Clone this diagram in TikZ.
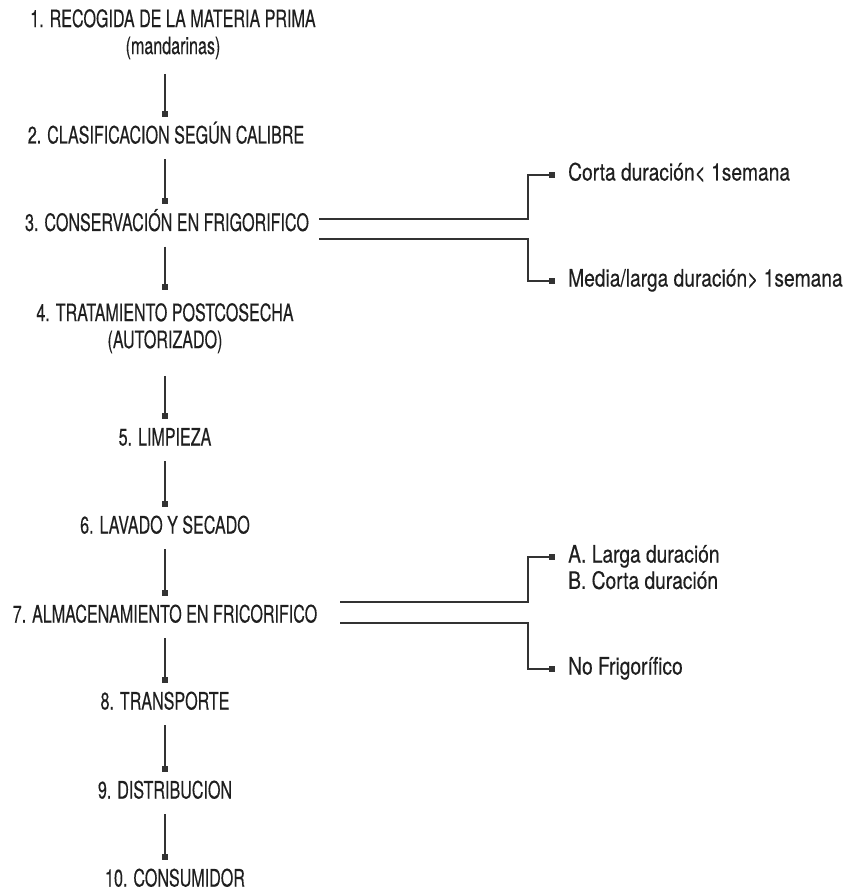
\documentclass[tikz,border=0pt]{standalone}
\usepackage{fontspec}
\setmainfont{TeX Gyre Heros}
\newfontfamily\stagefont{TeX Gyre Heros}[FakeStretch=0.67, FakeBold=0.3]
\newfontfamily\notefont{TeX Gyre Heros}[FakeStretch=0.80, FakeBold=0.3]
\usetikzlibrary{positioning,arrows.meta}

\begin{document}
\begin{tikzpicture}[x=1pt, y=-1pt,
    stage/.style={font=\stagefont\fontsize{24}{27}\selectfont, text=black!88, align=center,
        inner xsep=0pt, inner ysep=10.5pt, text height=16pt, text depth=5pt},
    stagetwo/.style={font=\stagefont\fontsize{24}{27}\selectfont, text=black!88, align=center,
        inner sep=0pt},
    note/.style={font=\notefont\fontsize{24}{27}\selectfont, text=black!88, anchor=west,
        inner xsep=13pt, inner ysep=0pt, text height=16pt, text depth=5pt},
    link/.style={draw=black!80, line width=1.2pt, -{Square[length=6pt,width=6pt]}}]
    \useasboundingbox (0,0) rectangle (851,893);
    \coordinate (axis) at (165,0);

    % Main chain of stages
    \node[stagetwo, anchor=north] (n1) at (173,9) {1. RECOGIDA DE LA MATERIA PRIMA\\(mandarinas)};
    \node[stage] (n2) at (166,138) {2. CLASIFICACION SEGÚN CALIBRE};
    \node[stage] (n3) at (167,225.5) {3. CONSERVACIÓN EN FRIGORIFICO};
    \node[stagetwo, anchor=north] (n4) at (165,303) {4. TRATAMIENTO POSTCOSECHA\\(AUTORIZADO)};
    \node[stage] (n5) at (165,440) {5. LIMPIEZA};
    \node[stage] (n6) at (165,528) {6. LAVADO Y SECADO};
    \node[stage] (n7) at (165,617) {7. ALMACENAMIENTO EN FRICORIFICO};
    \node[stage] (n8) at (165,704) {8. TRANSPORTE};
    \node[stage] (n9) at (165,793) {9. DISTRIBUCION};
    \node[stage] (n10) at (175,881) {10. CONSUMIDOR};

    \draw[link, shorten <=14.5pt] (n1.south -| axis) -- (n2.north -| axis);
    \draw[link, shorten >=13pt] (n3.south -| axis) -- (n4.north -| axis);
    \draw[link, shorten <=22.5pt] (n4.south -| axis) -- (n5.north -| axis);
    \foreach \a/\b in {n2/n3, n5/n6, n6/n7, n7/n8, n8/n9, n9/n10}
        \draw[link] (\a.south -| axis) -- (\b.north -| axis);

    % Storage options after stage 3
    \node[note] (c3a) at (555,175) {Corta duración< 1semana};
    \node[note] (c3b) at (555,281) {Media/larga duración> 1semana};
    \draw[link] ([xshift=10pt,yshift=6.5pt]n3.east) -| ([xshift=-27pt]c3a.west) -- (c3a.west);
    \draw[link] ([xshift=10pt,yshift=-13.5pt]n3.east) -| ([xshift=-27pt]c3b.west) -- (c3b.west);

    % Storage options after stage 7
    \node[note] (a7) at (555,557) {A. Larga duración};
    \node[note, below=5pt of a7.south west, anchor=north west] (b7) {B. Corta duración};
    \node[note] (nof7) at (555,669) {No Frigorífico};
    \draw[link] ([xshift=23pt,yshift=15pt]n7.east) -| ([xshift=-27pt]a7.west) -- (a7.west);
    \draw[link] ([xshift=23pt,yshift=-6pt]n7.east) -| ([xshift=-27pt]nof7.west) -- (nof7.west);
\end{tikzpicture}
\end{document}
